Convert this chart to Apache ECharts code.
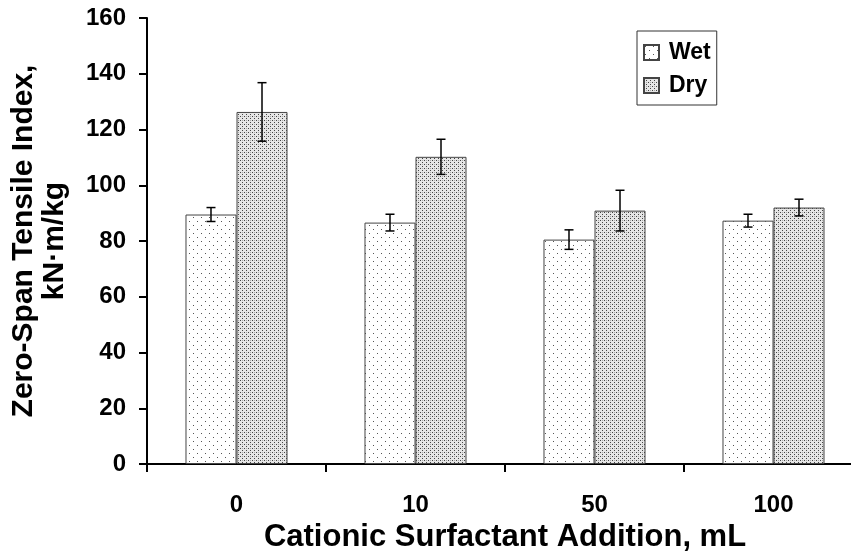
<!DOCTYPE html>
<html><head><meta charset="utf-8">
<script src="https://cdn.jsdelivr.net/npm/echarts@6/dist/echarts.min.js"></script>
<style>html,body{margin:0;padding:0;background:#fff}#c{width:851px;height:556px}</style>
</head><body><div id="c"></div>
<script>
const categories = ['0', '10', '50', '100'];
const wetValues = [89.5, 86.6, 80.5, 87.3];
const wetErrors = [2.5, 3.0, 3.5, 2.3];
const dryValues = [126.3, 110.2, 90.9, 92.0];
const dryErrors = [10.5, 6.3, 7.3, 3.0];
const yTicks = [0, 20, 40, 60, 80, 100, 120, 140, 160];

function makePattern(kind) {
  const c = document.createElement('canvas');
  if (kind === 'wet') {
    c.width = 8; c.height = 8;
    const g = c.getContext('2d');
    g.fillStyle = '#ffffff'; g.fillRect(0, 0, 8, 8);
    g.fillStyle = '#555555';
    g.fillRect(1, 1, 1, 1);
    g.fillRect(5, 5, 1, 1);
  } else {
    c.width = 4; c.height = 4;
    const g = c.getContext('2d');
    g.fillStyle = '#e6e6e6'; g.fillRect(0, 0, 4, 4);
    g.fillStyle = '#444444';
    g.fillRect(0, 0, 1, 1);
    g.fillRect(2, 2, 1, 1);
    g.fillStyle = '#aaaaaa';
    g.fillRect(2, 0, 1, 1);
  }
  return { image: c, repeat: 'repeat' };
}

const chart = echarts.init(document.getElementById('c'), null, { renderer: 'canvas' });
const font = 'Liberation Sans, Arial, sans-serif';
const GAP = 0.43;

function errRender(values, errors, sign) {
  return function (params, api) {
    const i = api.value(0);
    const v = values[i], e = errors[i];
    const center = api.coord([i, v]);
    const band = api.size([1, 0])[0];
    const off = sign * band * (1 - GAP) / 4;
    const x = center[0] + off;
    const top = api.coord([i, v + e])[1];
    const bot = api.coord([i, v - e])[1];
    const cw = 4.5;
    const st = { stroke: '#000', lineWidth: 1.5 };
    return { type: 'group', children: [
      { type: 'line', shape: { x1: x, y1: top, x2: x, y2: bot }, style: st },
      { type: 'line', shape: { x1: x - cw, y1: top, x2: x + cw, y2: top }, style: st },
      { type: 'line', shape: { x1: x - cw, y1: bot, x2: x + cw, y2: bot }, style: st }
    ]};
  };
}

chart.setOption({
  animation: false,
  backgroundColor: '#fff',
  grid: { left: 147, top: 18, width: 716, height: 446, containLabel: false, outerBoundsMode: 'none' },
  legend: {
    left: 637, top: 31,
    orient: 'vertical',
    icon: 'rect',
    itemWidth: 15, itemHeight: 15, itemGap: 10,
    padding: [10, 6, 8, 6],
    borderColor: '#333', borderWidth: 1,
    textStyle: { fontFamily: font, fontWeight: 'bold', fontSize: 23, color: '#000', padding: [0, 0, 0, 5] },
    data: ['Wet', 'Dry']
  },
  xAxis: {
    type: 'category', data: categories,
    name: 'Cationic Surfactant Addition, mL', nameLocation: 'middle', nameGap: 57,
    nameTextStyle: { fontFamily: font, fontWeight: 'bold', fontSize: 31, color: '#000', align: 'center', verticalAlign: 'top' },
    axisLine: { lineStyle: { color: '#000', width: 2 } },
    axisTick: { show: true, length: 8, lineStyle: { color: '#000', width: 2 } },
    axisLabel: { fontFamily: font, fontWeight: 'bold', fontSize: 24, color: '#000', margin: 29 }
  },
  yAxis: {
    type: 'value', min: yTicks[0], max: yTicks[yTicks.length - 1], interval: 20,
    name: 'Zero-Span Tensile Index,\nkN·m/kg', nameLocation: 'middle', nameGap: 77,
    nameTextStyle: { fontFamily: font, fontWeight: 'bold', fontSize: 30, color: '#000', lineHeight: 31 },
    axisLine: { show: true, lineStyle: { color: '#000', width: 2 } },
    axisTick: { show: true, length: 8, lineStyle: { color: '#000', width: 2 } },
    axisLabel: { fontFamily: font, fontWeight: 'bold', fontSize: 24, color: '#000', margin: 21 },
    splitLine: { show: false }
  },
  series: [
    { name: 'Wet', type: 'bar', data: wetValues, barGap: '0%', barCategoryGap: (GAP * 100) + '%',
      itemStyle: { color: makePattern('wet'), borderColor: '#444', borderWidth: 1 } },
    { name: 'Dry', type: 'bar', data: dryValues, barGap: '0%', barCategoryGap: (GAP * 100) + '%',
      itemStyle: { color: makePattern('dry'), borderColor: '#444', borderWidth: 1 } },
    { name: 'wetErr', type: 'custom', renderItem: errRender(wetValues, wetErrors, -1),
      data: wetValues.map((v, i) => [i, v]), z: 10 },
    { name: 'dryErr', type: 'custom', renderItem: errRender(dryValues, dryErrors, 1),
      data: dryValues.map((v, i) => [i, v]), z: 10 }
  ]
});
</script></body></html>
